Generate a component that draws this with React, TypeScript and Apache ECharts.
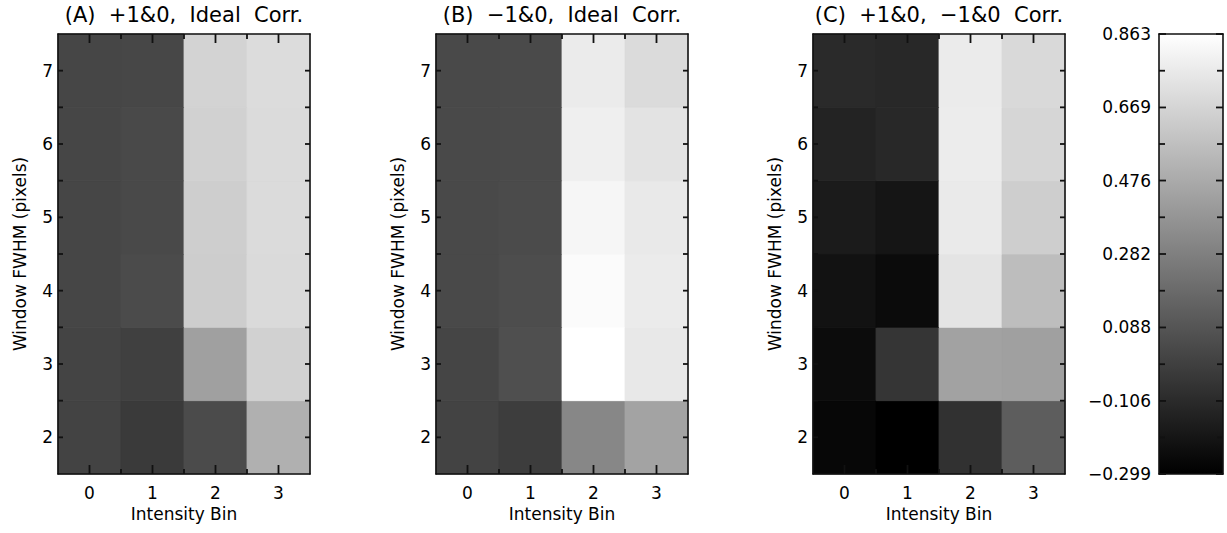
import React, { useEffect, useRef } from 'react';
import * as echarts from 'echarts';

// ---- data ----
const bins = [0, 1, 2, 3];
const fwhm = [2, 3, 4, 5, 6, 7];
// rows: FWHM 2..7, columns: intensity bin 0..3
const corrA = [
  [0.006, -0.035, 0.043, 0.503],
  [0.011, -0.007, 0.430, 0.653],
  [0.020, 0.043, 0.635, 0.694],
  [0.020, 0.034, 0.640, 0.699],
  [0.020, 0.034, 0.653, 0.699],
  [0.020, 0.025, 0.663, 0.704],
];
const corrB = [
  [0.006, -0.021, 0.316, 0.444],
  [0.015, 0.061, 0.863, 0.758],
  [0.034, 0.052, 0.845, 0.772],
  [0.034, 0.043, 0.822, 0.763],
  [0.034, 0.038, 0.790, 0.735],
  [0.034, 0.038, 0.772, 0.699],
];
const corrC = [
  [-0.267, -0.299, -0.076, 0.125],
  [-0.244, -0.057, 0.439, 0.430],
  [-0.217, -0.249, 0.740, 0.562],
  [-0.176, -0.203, 0.767, 0.640],
  [-0.139, -0.117, 0.776, 0.676],
  [-0.108, -0.117, 0.772, 0.690],
];
const panelTitles = [
  '(A)  +1&0,  Ideal  Corr.',
  '(B)  \u22121&0,  Ideal  Corr.',
  '(C)  +1&0,  \u22121&0  Corr.',
];
const colorbarTicks = [-0.299, -0.106, 0.088, 0.282, 0.476, 0.669, 0.863];
const valueMin = -0.299;
const valueMax = 0.863;
const xAxisTitle = 'Intensity Bin';
const yAxisTitle = 'Window FWHM (pixels)';

// ---- layout ----
const FONT = 'DejaVu Sans';
const panelLefts = [58, 436, 813];
const panelWidth = 252;
const plotTop = 34;
const plotHeight = 440;
const cbLeft = 1159;
const cbWidth = 64;

const black = '#000000';
const frameStyle = { color: '#111111', width: 1.6 };
const TW = 1.8; // tick thickness

const isInt = (v: number) => Math.abs(v - Math.round(v)) < 1e-6;

function tickLines(orient: number, x: number, y: number, len: number, ox: number, oy: number) {
  const st = { stroke: '#111111', lineWidth: TW, fill: null };
  if (orient === 0) {
    return [
      { type: 'line', z2: 100, shape: { x1: x, y1: y, x2: x, y2: y - len }, style: st },
      { type: 'line', z2: 100, shape: { x1: x, y1: oy, x2: x, y2: oy + len }, style: st },
    ];
  }
  return [
    { type: 'line', z2: 100, shape: { x1: x, y1: y, x2: x + len, y2: y }, style: st },
    { type: 'line', z2: 100, shape: { x1: ox, y1: y, x2: ox - len, y2: y }, style: st },
  ];
}

function buildOption() {
  const panels = [corrA, corrB, corrC];
  const grid: any[] = [];
  const xAxis: any[] = [];
  const yAxis: any[] = [];
  const series: any[] = [];
  const graphic: any[] = [];

  const xMin = bins[0] - 0.5;
  const xMax = bins[bins.length - 1] + 0.5;
  const yMin = fwhm[0] - 0.5;
  const yMax = fwhm[fwhm.length - 1] + 0.5;

  panels.forEach((panel, i) => {
    grid.push({ left: panelLefts[i], top: plotTop, width: panelWidth, height: plotHeight, containLabel: false });
    const base = {
      type: 'value',
      gridIndex: i,
      min: xMin,
      max: xMax,
      interval: 0.5,
      splitLine: { show: false },
      axisTick: { show: false },
      z: 10,
    };
    xAxis.push({
      ...base,
      position: 'bottom',
      axisLine: { show: true, onZero: false, lineStyle: frameStyle },
      axisLabel: {
        show: true,
        margin: 10,
        fontSize: 17,
        color: black,
        fontFamily: FONT,
        showMinLabel: false,
        showMaxLabel: false,
        formatter: (v: number) => (isInt(v) ? String(Math.round(v)) : ''),
      },
      name: xAxisTitle,
      nameLocation: 'middle',
      nameGap: 28,
      nameTextStyle: { fontSize: 17, color: black, fontFamily: FONT },
    });
    xAxis.push({
      ...base,
      position: 'top',
      axisLine: { show: true, onZero: false, lineStyle: frameStyle },
      axisLabel: { show: false },
    });
    const ybase = {
      type: 'value',
      gridIndex: i,
      min: yMin,
      max: yMax,
      interval: 0.5,
      splitLine: { show: false },
      axisTick: { show: false },
      z: 10,
    };
    yAxis.push({
      ...ybase,
      position: 'left',
      axisLine: { show: true, onZero: false, lineStyle: frameStyle },
      axisLabel: {
        show: true,
        margin: 5,
        fontSize: 17,
        color: black,
        fontFamily: FONT,
        showMinLabel: false,
        showMaxLabel: false,
        formatter: (v: number) => (isInt(v) ? String(Math.round(v)) : ''),
      },
      name: yAxisTitle,
      nameLocation: 'middle',
      nameGap: 30,
      nameTextStyle: { fontSize: 17, color: black, fontFamily: FONT },
    });
    yAxis.push({
      ...ybase,
      position: 'right',
      axisLine: { show: true, onZero: false, lineStyle: frameStyle },
      axisLabel: { show: false },
    });

    const data: number[][] = [];
    panel.forEach((row, r) => {
      row.forEach((v, c) => {
        data.push([bins[c], fwhm[r], v]);
      });
    });
    series.push({
      type: 'custom',
      xAxisIndex: 2 * i,
      yAxisIndex: 2 * i,
      z: 2,
      data,
      renderItem: (params: any, api: any) => {
        const x = api.value(0);
        const y = api.value(1);
        const p0 = api.coord([x - 0.5, y + 0.5]);
        const p1 = api.coord([x + 0.5, y - 0.5]);
        const col = api.visual('color');
        return {
          type: 'rect',
          shape: { x: p0[0], y: p0[1], width: p1[0] - p0[0], height: p1[1] - p0[1] },
          style: { fill: col, stroke: col, lineWidth: 0.8 },
        };
      },
    });

    graphic.push({
      type: 'text',
      x: panelLefts[i] + panelWidth / 2,
      y: 15,
      style: {
        text: panelTitles[i],
        fill: black,
        font: `21px "${FONT}"`,
        textAlign: 'center',
        textVerticalAlign: 'middle',
      },
    });
  });

  // tick marks for each panel (inside, on the four sides)
  panels.forEach((_, i) => {
    series.push({
      type: 'custom',
      xAxisIndex: 2 * i,
      yAxisIndex: 2 * i,
      z: 30,
      silent: true,
      data: [[xMin, yMin]],
      renderItem: (params: any, api: any) => {
        const children: any[] = [];
        const bl = api.coord([xMin, yMin]);
        const tr = api.coord([xMax, yMax]);
        bins.forEach((b, k) => {
          const px = api.coord([b, yMin])[0];
          children.push(...tickLines(0, px, bl[1], 9, tr[0], tr[1]));
          if (k < bins.length - 1) {
            const mx = api.coord([b + 0.5, yMin])[0];
            children.push(...tickLines(0, mx, bl[1], 5, tr[0], tr[1]));
          }
        });
        fwhm.forEach((f, k) => {
          const py = api.coord([xMin, f])[1];
          children.push(...tickLines(1, bl[0], py, 5, tr[0], tr[1]));
          if (k < fwhm.length - 1) {
            const my = api.coord([xMin, f + 0.5])[1];
            children.push(...tickLines(1, bl[0], my, 5, tr[0], tr[1]));
          }
        });
        return { type: 'group', children };
      },
    });
  });

  // colorbar
  const cbGrid = panels.length;
  grid.push({ left: cbLeft, top: plotTop, width: cbWidth, height: plotHeight, containLabel: false });
  const cbX = {
    type: 'value',
    gridIndex: cbGrid,
    min: 0,
    max: 1,
    splitLine: { show: false },
    axisTick: { show: false },
    axisLabel: { show: false },
    axisLine: { show: true, onZero: false, lineStyle: frameStyle },
    z: 10,
  };
  xAxis.push({ ...cbX, position: 'bottom' });
  xAxis.push({ ...cbX, position: 'top' });
  const cbY = {
    type: 'value',
    gridIndex: cbGrid,
    min: valueMin,
    max: valueMax,
    splitLine: { show: false },
    axisLine: { show: true, onZero: false, lineStyle: frameStyle },
    axisTick: { show: false },
    z: 10,
  };
  yAxis.push({
    ...cbY,
    position: 'left',
    axisLabel: {
      show: true,
      customValues: colorbarTicks,
      margin: 8,
      fontSize: 17,
      color: black,
      fontFamily: FONT,
      formatter: (v: number) => v.toFixed(3).replace('-', '\u2212'),
    },
  });
  yAxis.push({ ...cbY, position: 'right', axisLabel: { show: false } });

  const cbXi = xAxis.length - 2;
  const cbYi = yAxis.length - 2;
  series.push({
    type: 'custom',
    xAxisIndex: cbXi,
    yAxisIndex: cbYi,
    z: 2,
    data: [[0, valueMin, valueMax]],
    renderItem: (params: any, api: any) => {
      const p0 = api.coord([0, api.value(2)]);
      const p1 = api.coord([1, api.value(1)]);
      return {
        type: 'rect',
        shape: { x: p0[0], y: p0[1], width: p1[0] - p0[0], height: p1[1] - p0[1] },
        style: {
          fill: new echarts.graphic.LinearGradient(0, 0, 0, 1, [
            { offset: 0, color: '#ffffff' },
            { offset: 1, color: '#000000' },
          ]),
        },
      };
    },
  });
  const cbTickData: number[][] = [];
  colorbarTicks.forEach((t, k) => {
    cbTickData.push([0, t, 7]);
    if (k < colorbarTicks.length - 1) cbTickData.push([0, (t + colorbarTicks[k + 1]) / 2, 6]);
  });
  series.push({
    type: 'custom',
    xAxisIndex: cbXi,
    yAxisIndex: cbYi,
    z: 30,
    silent: true,
    data: cbTickData,
    renderItem: (params: any, api: any) => {
      const pl = api.coord([0, api.value(1)]);
      const pr = api.coord([1, api.value(1)]);
      return { type: 'group', children: tickLines(1, pl[0], pl[1], api.value(2), pr[0], 0) };
    },
  });

  return {
    animation: false,
    backgroundColor: '#ffffff',
    grid,
    xAxis,
    yAxis,
    visualMap: {
      type: 'continuous',
      show: false,
      min: valueMin,
      max: valueMax,
      dimension: 2,
      seriesIndex: [0, 1, 2],
      inRange: { color: ['#000000', '#ffffff'] },
    },
    series,
    graphic,
  };
}

export default function App() {
  const ref = useRef<HTMLDivElement>(null);
  useEffect(() => {
    document.body.style.margin = '0';
    if (!ref.current) return;
    const chart = echarts.init(ref.current, null, { renderer: 'svg' });
    chart.setOption(buildOption() as any);
    return () => chart.dispose();
  }, []);
  return <div ref={ref} style={{ width: 1227, height: 533 }} />;
}
